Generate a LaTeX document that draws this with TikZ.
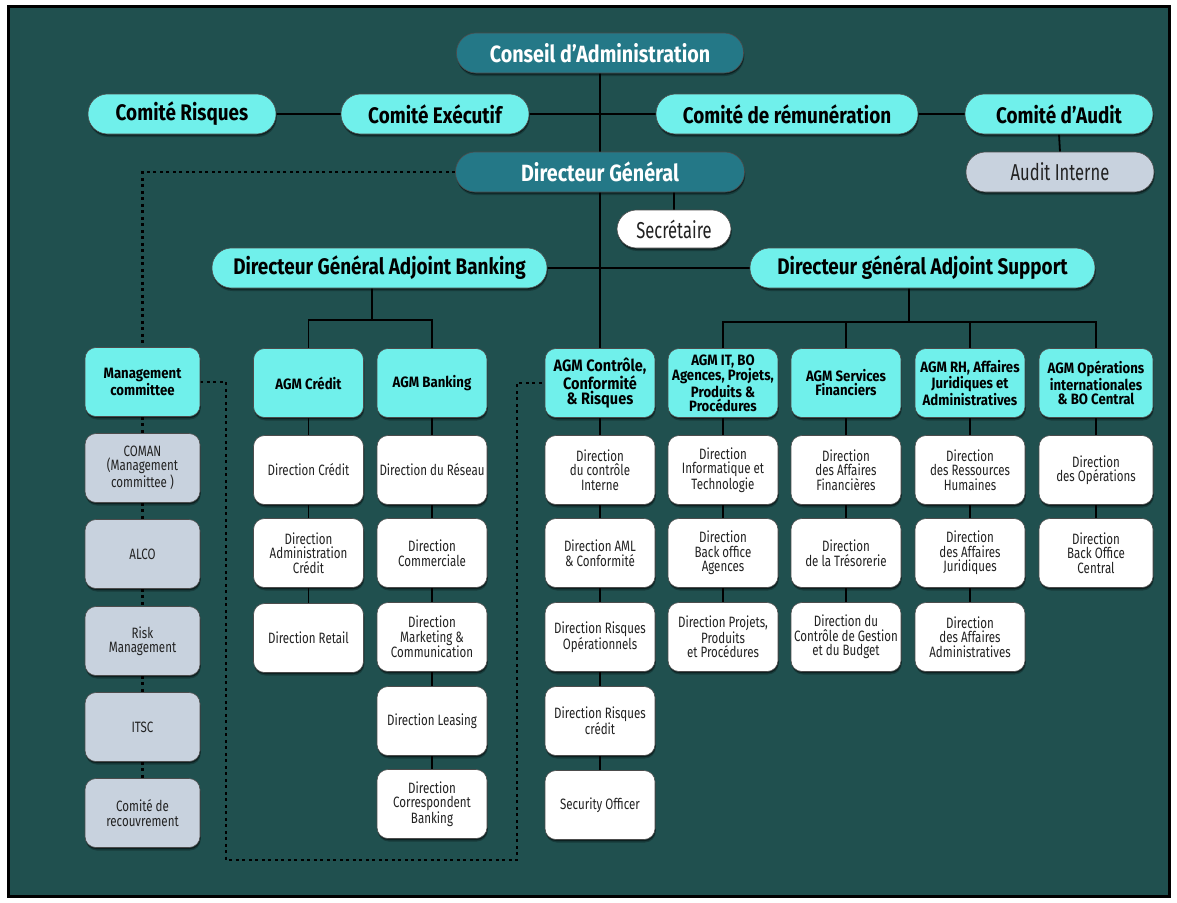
\documentclass[tikz,border=0pt]{standalone}
\usepackage{fontspec}
\setmainfont{Fira Sans}
\newfontfamily\hdfont{Fira Sans}[FakeStretch=0.84]
\newfontfamily\agfont{Fira Sans}[FakeStretch=0.88]
\newfontfamily\bxfont{Fira Sans}[FakeStretch=0.72]
\newfontfamily\smfont{Fira Sans}[FakeStretch=0.77]
\usetikzlibrary{shadows,calc}

\definecolor{bgteal}{RGB}{32,80,79}
\definecolor{cyanbox}{RGB}{112,240,235}
\definecolor{darkteal}{RGB}{36,120,135}
\definecolor{graybox}{RGB}{200,210,222}
\definecolor{inkgray}{RGB}{34,34,34}

\pgfdeclarelayer{back}
\pgfdeclarelayer{lines}
\pgfsetlayers{back,lines,main}

\tikzset{
  base/.style={draw=black!70, line width=0.6pt, align=center, inner sep=0pt,
    drop shadow={shadow xshift=0.8pt, shadow yshift=-3pt, fill=black, opacity=0.25},
    drop shadow={shadow xshift=0.5pt, shadow yshift=-1.6pt, fill=black, opacity=0.45}},
  pill/.style={base, rounded corners=19.5pt, minimum height=40pt},
  topdark/.style={pill, fill=darkteal, text=white, font=\hdfont\bfseries\fontsize{23.5}{23.5}\selectfont},
  topcyan/.style={pill, fill=cyanbox, text=black, font=\hdfont\bfseries\fontsize{22.5}{22.5}\selectfont},
  toplight/.style={pill, fill=graybox, text=inkgray, font=\bxfont\fontsize{23}{23}\selectfont},
  card/.style={base, rounded corners=11pt, minimum width=110pt, minimum height=69pt},
  agm/.style={card, fill=cyanbox, text=black, font=\agfont\bfseries\fontsize{15}{14}\selectfont},
  dir/.style={card, fill=white, text=inkgray, font=\smfont\fontsize{15}{14.5}\selectfont},
  com/.style={card, fill=graybox, minimum width=115pt, text=inkgray, font=\smfont\fontsize{15}{14.5}\selectfont},
  link/.style={line width=1.8pt, black},
  dotlink/.style={line width=2.2pt, black, dash pattern=on 3pt off 3.5pt},
}

\begin{document}
\begin{tikzpicture}[x=1pt, y=-1pt]
\useasboundingbox (0,0) rectangle (1177,902);

\begin{pgfonlayer}{back}
  \fill[white] (0,0) rectangle (1177,902);
  \draw[line width=3pt, fill=bgteal] (8.5,6.5) rectangle (1169.5,896.5);
\end{pgfonlayer}

% board and committees
\node[topdark, minimum width=287pt] (ca) at (600,53) {Conseil d’Administration};
\node[topcyan, minimum width=188pt] (cr) at (182,114) {Comité Risques};
\node[topcyan, minimum width=188pt] (ce) at (435,114) {Comité Exécutif};
\node[topcyan, minimum width=262pt] (crem) at (787,114) {Comité de rémunération};
\node[topcyan, minimum width=188pt] (caud) at (1059,114) {Comité d’Audit};
\node[toplight, minimum width=188pt] (ai) at (1060,172) {Audit Interne};

% general management
\node[topdark, minimum width=289pt] (dg) at (600,172) {Directeur Général};
\node[pill, fill=white, text=inkgray, minimum width=114pt, minimum height=38pt,
      font=\bxfont\fontsize{23}{23}\selectfont] (sec) at (674,229) {Secrétaire};
\node[topcyan, minimum width=335pt] (dgab) at (379.5,268) {Directeur Général Adjoint Banking};
\node[topcyan, minimum width=345pt] (dgas) at (922.5,268) {Directeur général Adjoint Support};

% AGM row
\node[agm, minimum width=115pt] (mc) at (142.5,382) {Management\\committee};
\node[agm] (agc) at (308.5,383) {AGM Crédit};
\node[agm] (agb) at (432,383) {AGM Banking};
\node[agm, font=\agfont\bfseries\fontsize{16.5}{14.5}\selectfont] (agr) at (600,383) {AGM Contrôle,\\Conformité\\\& Risques};
\node[agm] (agi) at (723,383) {AGM IT, BO\\Agences, Projets,\\Produits \&\\Procédures};
\node[agm] (ags) at (846,383) {AGM Services\\Financiers};
\node[agm] (agh) at (970,383) {AGM RH, Affaires\\Juridiques et\\Administratives};
\node[agm, minimum width=114pt] (ago) at (1096,383) {AGM Opérations\\internationales\\\& BO Central};

% committees column
\node[com] (c1) at (142.5,468) {COMAN\\(Management\\committee )};
\node[com] (c2) at (142.5,554) {ALCO};
\node[com] (c3) at (142.5,641) {Risk\\Management};
\node[com] (c4) at (142.5,727) {ITSC};
\node[com] (c5) at (142.5,813) {Comité de\\recouvrement};

% credit
\node[dir] (k1) at (308.5,470) {Direction Crédit};
\node[dir] (k2) at (308.5,553) {Direction\\Administration\\Crédit};
\node[dir] (k3) at (308.5,638) {Direction Retail};

% banking
\node[dir] (b1) at (432,470) {Direction du Réseau};
\node[dir] (b2) at (432,553) {Direction\\Commerciale};
\node[dir] (b3) at (432,637) {Direction\\Marketing \&\\Communication};
\node[dir] (b4) at (432,721) {Direction Leasing};
\node[dir] (b5) at (432,804) {Direction\\Correspondent\\Banking};

% control, compliance and risks
\node[dir] (r1) at (600,470) {Direction\\du contrôle\\Interne};
\node[dir] (r2) at (600,553) {Direction AML\\\& Conformité};
\node[dir] (r3) at (600,637) {Direction Risques\\Opérationnels};
\node[dir] (r4) at (600,721) {Direction Risques\\crédit};
\node[dir] (r5) at (600,805) {Security Officer};

% IT
\node[dir] (i1) at (723,470) {Direction\\Informatique et\\Technologie};
\node[dir] (i2) at (723,553) {Direction\\Back office\\Agences};
\node[dir] (i3) at (723,637) {Direction Projets,\\Produits\\et Procédures};

% financial services
\node[dir] (s1) at (846,470) {Direction\\des Affaires\\Financières};
\node[dir] (s2) at (846,553) {Direction\\de la Trésorerie};
\node[dir] (s3) at (846,637) {Direction du\\Contrôle de Gestion\\et du Budget};

% HR, legal and administration
\node[dir] (h1) at (970,470) {Direction\\des Ressources\\Humaines};
\node[dir] (h2) at (970,553) {Direction\\des Affaires\\Juridiques};
\node[dir] (h3) at (970,637) {Direction\\des Affaires\\Administratives};

% operations
\node[dir, minimum width=114pt] (o1) at (1096,470) {Direction\\des Opérations};
\node[dir, minimum width=114pt] (o2) at (1096,553) {Direction\\Back Office\\Central};

\coordinate (kb) at (372,320);
\coordinate (ks) at (909,322);
\coordinate (d1) at (226,860);
\coordinate (d2) at (517,860);

\begin{pgfonlayer}{lines}
  % main spine
  \draw[link] (ca.south) -- (dg.north);
  \draw[link] (dg.south) -- (agr.north);
  \draw[link] (cr.east) -- (ce.west);
  \draw[link] (ce.east) -- (crem.west);
  \draw[link] (crem.east) -- (caud.west);
  \draw[link] (caud.south) -- (ai.north);
  \draw[link] (dg.south -| sec.north) -- (sec.north);
  \draw[link] (dgab.east) -- (dgas.west);
  % banking branch
  \draw[link] (kb |- dgab.south) -- (kb);
  \draw[link] (agc.north) |- (kb) -| (agb.north);
  % support branch
  \draw[link] (ks |- dgas.south) -- (ks);
  \draw[link] (agi.north) |- (ago.north |- ks) -- (ago.north);
  \draw[link] (ags.north) -- (ags.north |- ks);
  \draw[link] (agh.north) -- (agh.north |- ks);
  % columns
  \draw[link] (agc) -- (k1) -- (k2) -- (k3);
  \draw[link] (agb) -- (b1) -- (b2) -- (b3) -- (b4) -- (b5);
  \draw[link] (agr) -- (r1) -- (r2) -- (r3) -- (r4) -- (r5);
  \draw[link] (agi) -- (i1) -- (i2) -- (i3);
  \draw[link] (ags) -- (s1) -- (s2) -- (s3);
  \draw[link] (agh) -- (h1) -- (h2) -- (h3);
  \draw[link] (ago) -- (o1) -- (o2);
  % dotted links of the management committee
  \draw[dotlink] (dg.west) -| (mc.north);
  \draw[dotlink] (mc) -- (c1) -- (c2) -- (c3) -- (c4) -- (c5);
  \draw[dotlink] (mc.east) -| (d1) -- (d2) |- (agr.west);
\end{pgfonlayer}
\end{tikzpicture}
\end{document}
